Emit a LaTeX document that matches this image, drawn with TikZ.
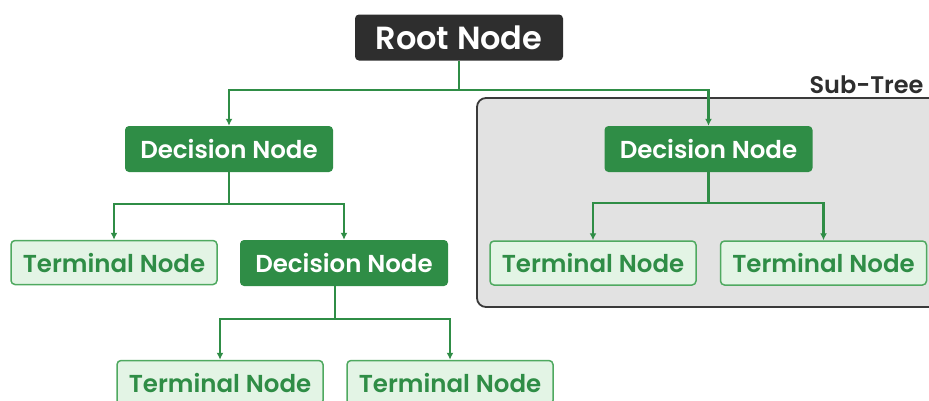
\documentclass[tikz,border=0pt]{standalone}
\usepackage{fontspec}
\setmainfont{Poppins}[BoldFont={Poppins SemiBold}]
\usetikzlibrary{arrows.meta}
\definecolor{gfg}{HTML}{2F8D46}
\definecolor{gfglight}{HTML}{E3F4E5}
\definecolor{gfgborder}{HTML}{4FA960}
\definecolor{rootfill}{HTML}{2E2E2E}
\definecolor{subfill}{HTML}{E2E2E2}
\definecolor{subdraw}{HTML}{3A3A3A}
\tikzset{
  base/.style={rounded corners=4pt, minimum width=208pt, minimum height=46pt, inner sep=0pt, font=\fontsize{24.5}{28}\selectfont\bfseries},
  rootbox/.style={base, fill=rootfill, text=white, font=\fontsize{32}{35}\selectfont\bfseries},
  decbox/.style={base, fill=gfg, text=white},
  termbox/.style={base, fill=gfglight, draw=gfgborder, line width=1.5pt, text=gfg, minimum width=206pt, minimum height=44pt},
  conn/.style={draw=gfg, line width=2.6pt},
  arr/.style={conn, -{Latex[length=7pt,width=7pt]}},
}
\begin{document}
\begin{tikzpicture}[x=1pt,y=-1pt]
\useasboundingbox (0,0) rectangle (929,400);
% sub-tree box
\draw[fill=subfill, draw=subdraw, line width=1.8pt, rounded corners=9pt] (477,98) rectangle (940,307);
\node[anchor=east, text=rootfill, font=\fontsize{24}{28}\selectfont\bfseries] (sublabel) at (927,85) {Sub-Tree};
% nodes
\node[rootbox] (root) at (459,37.5) {Root Node};
\node[decbox] (d1) at (229,149) {Decision Node};
\node[decbox] (d2) at (708.5,149) {Decision Node};
\node[termbox] (t1) at (114,262.5) {Terminal Node};
\node[decbox] (d3) at (344,263) {Decision Node};
\node[termbox] (t2) at (593,263) {Terminal Node};
\node[termbox] (t3) at (823.5,263) {Terminal Node};
\node[termbox] (t4) at (220,382.5) {Terminal Node};
\node[termbox] (t5) at (450,382.5) {Terminal Node};
% connectors
\coordinate (j0) at (459,90);
\coordinate (j1) at (229,204);
\coordinate (j2) at (708.5,203);
\coordinate (j3) at (335,319);
\draw[conn] (root.south) -- (j0);
\draw[arr] (j0) -| (d1.north);
\draw[arr] (j0) -| (d2.north);
\draw[conn] (d1.south) -- (j1);
\draw[arr] (j1) -| (t1.north);
\draw[arr] (j1) -| (d3.north);
\draw[conn] (d2.south) -- (j2);
\draw[arr] (j2) -| (t2.north);
\draw[arr] (j2) -| (t3.north);
\draw[conn] (d3.south -| j3) -- (j3);
\draw[arr] (j3) -| (t4.north);
\draw[arr] (j3) -| (t5.north);
\end{tikzpicture}
\end{document}
